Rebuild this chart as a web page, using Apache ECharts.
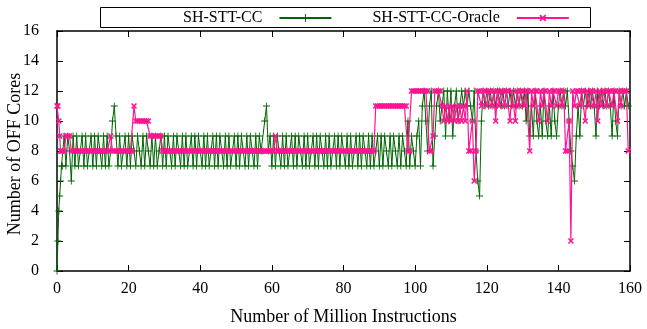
<!DOCTYPE html>
<html>
<head>
<meta charset="utf-8">
<script src="https://cdn.jsdelivr.net/npm/echarts@6/dist/echarts.min.js"></script>
<style>
html,body{margin:0;padding:0;background:#fff;}
#chart{width:647px;height:329px;}
</style>
</head>
<body>
<div id="chart"></div>
<script>
// Million instructions (x positions of samples)
const instructions = [
  0,0.25,0.5,0.75,1,1.25,1.5,
  2,2.5,3,3.5,4,4.5,5,5.5,6,6.5,7,7.5,8,8.5,9,9.5,10,10.5,11,11.5,
  12,12.5,13,13.5,14,14.5,15,15.5,16,16.5,17,17.5,18,18.5,19,19.5,20,20.5,21,21.5,
  22,22.5,23,23.5,24,24.5,25,25.5,26,26.5,27,27.5,28,28.5,29,29.5,30,30.5,31,31.5,
  32,32.5,33,33.5,34,34.5,35,35.5,36,36.5,37,37.5,38,38.5,39,39.5,40,40.5,41,41.5,
  42,42.5,43,43.5,44,44.5,45,45.5,46,46.5,47,47.5,48,48.5,49,49.5,50,50.5,51,51.5,
  52,52.5,53,53.5,54,54.5,55,55.5,56,56.5,57,57.5,58,58.5,59,59.5,60,60.5,61,61.5,
  62,62.5,63,63.5,64,64.5,65,65.5,66,66.5,67,67.5,68,68.5,69,69.5,70,70.5,71,71.5,
  72,72.5,73,73.5,74,74.5,75,75.5,76,76.5,77,77.5,78,78.5,79,79.5,80,80.5,81,81.5,
  82,82.5,83,83.5,84,84.5,85,85.5,86,86.5,87,87.5,88,88.5,89,89.5,90,90.5,91,91.5,
  92,92.5,93,93.5,94,94.5,95,95.5,96,96.5,97,97.5,98,98.5,99,99.5,100,100.5,101,101.5,
  102,102.5,103,103.5,104,104.5,105,105.5,106,106.5,107,107.5,108,108.5,109,109.5,110,110.5,111,111.5,
  112,112.5,113,113.5,114,114.5,115,115.5,116,116.5,117,117.5,118,118.5,119,119.5,120,120.5,121,121.5,
  122,122.5,123,123.5,124,124.5,125,125.5,126,126.5,127,127.5,128,128.5,129,129.5,130,130.5,131,131.5,
  132,132.5,133,133.5,134,134.5,135,135.5,136,136.5,137,137.5,138,138.5,139,139.5,140,140.5,141,141.5,
  142,142.5,143,143.5,144,144.5,145,145.5,146,146.5,147,147.5,148,148.5,149,149.5,150,150.5,151,151.5,
  152,152.5,153,153.5,154,154.5,155,155.5,156,156.5,157,157.5,158,158.5,159,159.5
];

// SH-STT-CC : number of OFF cores
const shSttCc = [
  0,2,4,5,6,7,7,
  9,7,9,8,6, 9,7,9,7,8, 9,7,9,7,8, 9,7,9,7,9,
  8,7,9,7,9, 7,8,10,11,9, 7,9,7,8,9, 7,9,7,9,8,
  7,9,8,7,9, 7,9,8,7,9, 7,9,7,8,9, 7,9,7,9,8,
  7,9,7,9,8, 7,9,7,9,7, 8,9,7,9,7, 9,8,7,9,7,
  9,7,8,9,7, 9,7,9,8,7, 9,7,9,7,8, 9,7,9,7,9,
  8,7,9,7,9, 8,7,9,7,9, 8,8,10,11,8, 9,7,9,7,9,
  8,7,9,7,9, 7,8,9,7,9, 7,9,8,7,9, 7,9,7,8,9,
  7,9,7,9,8, 7,9,7,9,7, 8,9,7,9,7, 9,8,7,9,7,
  9,7,8,9,7, 9,7,9,8,7, 9,7,9,7,8, 9,7,9,7,9,
  8,7,9,7,9, 8,7,9,7,9, 8,7,10,7,9, 8,7,9,10,7,
  11,12,10,8,11, 12,7,9,11,12, 10,11,12,9,12, 10,12,9,11,12,
  10,11,12,11,12, 11,12,11,10,12, 8,6,5,10,12, 11,12,11,12,11,
  12,11,12,12,11, 12,11,12,11,12, 11,12,11,12,11, 12,11,12,10,12,
  9,11,9,12,10, 9,11,9,12,10, 9,11,9,12,10, 9,11,12,11,12,
  11,12,10,8,7, 6,9,11,9,12, 11,12,11,12,11, 12,11,9,12,11,
  12,11,12,11,12, 11,9,12,10,9, 12,11,12,11,12, 11
];

// SH-STT-CC-Oracle : number of OFF cores
const shSttCcOracle = [
  11,11,10,9,8,8,8,
  8,9,9,9,8, 8,8,8,8,8, 8,8,8,8,8, 8,8,8,8,8,
  8,8,8,8,8, 8,9,8,8,8, 8,8,8,8,8, 8,8,8,8,11,
  10,10,10,10,10, 10,10,10,9,9, 9,9,9,9,9, 8,8,8,8,8,
  8,8,8,8,8, 8,8,8,8,8, 8,8,8,8,8, 8,8,8,8,8,
  8,8,8,8,8, 8,8,8,8,8, 8,8,8,8,8, 8,8,8,8,8,
  8,8,8,8,8, 8,8,8,8,8, 8,8,8,8,8, 8,8,8,9,8,
  8,8,8,8,8, 8,8,8,8,8, 8,8,8,8,8, 8,8,8,8,8,
  8,8,8,8,8, 8,8,8,8,8, 8,8,8,8,8, 8,8,8,8,8,
  8,8,8,8,8, 8,8,8,8,8, 8,8,8,8,11, 11,11,11,11,11,
  11,11,11,11,11, 11,11,11,11,11, 11,11,8,8,12, 12,12,12,12,12,
  12,12,12,12,8, 8,9,12,12,12, 12,11,10,11,10, 11,10,11,10,11,
  10,11,10,11,10, 12,8,8,10,6, 8,12,12,11,12, 12,11,12,12,11,
  12,10,12,11,12, 12,11,12,12,10, 12,11,10,12,11, 12,12,11,12,12,
  8,12,11,12,12, 10,12,11,12,12, 10,12,11,12,12, 11,12,12,11,12,
  8,8,10,2,12, 11,12,12,11,12, 12,10,12,11,12, 12,11,12,10,12,
  11,12,12,11,12, 12,11,12,12,10, 12,11,12,12,12, 8
];

const seriesNames = ['SH-STT-CC', 'SH-STT-CC-Oracle'];
const xTicks = [0, 20, 40, 60, 80, 100, 120, 140, 160];
const yTicks = [0, 2, 4, 6, 8, 10, 12, 14, 16];
const xTitle = 'Number of Million Instructions';
const yTitle = 'Number of OFF Cores';

if (shSttCc.length !== instructions.length || shSttCcOracle.length !== instructions.length) {
  throw new Error('length mismatch ' + instructions.length + ' ' + shSttCc.length + ' ' + shSttCcOracle.length);
}

const FONT = 'Liberation Serif';
const PLUS = 'path://M4.4,0H5.6V4.4H10V5.6H5.6V10H4.4V5.6H0V4.4H4.4Z';
const CROSS = 'path://M3.9,0H6.1V3.9H10V6.1H6.1V10H3.9V6.1H0V3.9H3.9Z';

const chart = echarts.init(document.getElementById('chart'), null, {renderer: 'canvas'});

function axisX(pos, showLabel) {
  return {
    type: 'value', position: pos, min: xTicks[0], max: xTicks[xTicks.length - 1],
    interval: xTicks[1] - xTicks[0],
    axisLine: {show: true, onZero: false, lineStyle: {color: '#000', width: 1.5}},
    axisTick: {show: true, inside: true, length: 6, lineStyle: {color: '#000', width: 1}},
    splitLine: {show: false},
    axisLabel: {show: showLabel, margin: 10, color: '#000', fontFamily: FONT, fontSize: 16},
    name: showLabel ? xTitle : '',
    nameLocation: 'middle', nameGap: 37, nameMoveOverlap: false,
    nameTextStyle: {color: '#000', fontFamily: FONT, fontSize: 18}
  };
}
function axisY(pos, showLabel) {
  return {
    type: 'value', position: pos, min: yTicks[0], max: yTicks[yTicks.length - 1],
    interval: yTicks[1] - yTicks[0],
    axisLine: {show: true, onZero: false, lineStyle: {color: '#000', width: 1.5}},
    axisTick: {show: true, inside: true, length: 6, lineStyle: {color: '#000', width: 1}},
    splitLine: {show: false},
    axisLabel: {show: showLabel, margin: 18, color: '#000', fontFamily: FONT, fontSize: 16}
  };
}

const option = {
  animation: false,
  backgroundColor: '#fff',
  textStyle: {fontFamily: FONT},
  grid: {left: 57, right: 17, top: 31, bottom: 58, containLabel: false, outerBoundsMode: 'none'},
  graphic: [
    {
      type: 'rect', z: 0,
      shape: {x: 100.5, y: 7.5, width: 490, height: 20},
      style: {fill: 'none', stroke: '#000', lineWidth: 1}
    },
    {
      type: 'text', x: 15, y: 154, rotation: Math.PI / 2,
      style: {text: yTitle, fill: '#000', font: '18px "Liberation Serif"', align: 'center', verticalAlign: 'middle'}
    }
  ],
  legend: {
    left: 183, top: 10, padding: 0, itemGap: 40, itemWidth: 52, itemHeight: 10,
    align: 'right',
    data: seriesNames,
    textStyle: {color: '#000', fontFamily: FONT, fontSize: 16, padding: [0, 12, 0, 0]}
  },
  xAxis: [axisX('bottom', true), axisX('top', false)],
  yAxis: [axisY('left', true), axisY('right', false)],
  series: [
    {
      name: seriesNames[0], type: 'line', xAxisIndex: 0, yAxisIndex: 0,
      data: instructions.map((x, i) => [x, shSttCc[i]]),
      symbol: PLUS, symbolSize: 7, showSymbol: true, sampling: null,
      lineStyle: {color: '#006400', width: 1},
      itemStyle: {color: '#006400'},
      z: 2
    },
    {
      name: seriesNames[1], type: 'line', xAxisIndex: 0, yAxisIndex: 0,
      data: instructions.map((x, i) => [x, shSttCcOracle[i]]),
      symbol: CROSS, symbolRotate: 45, symbolSize: 7, showSymbol: true, sampling: null,
      lineStyle: {color: '#ff1493', width: 1.2},
      itemStyle: {color: '#ff1493'},
      z: 3
    }
  ]
};
chart.setOption(option);
</script>
</body>
</html>
